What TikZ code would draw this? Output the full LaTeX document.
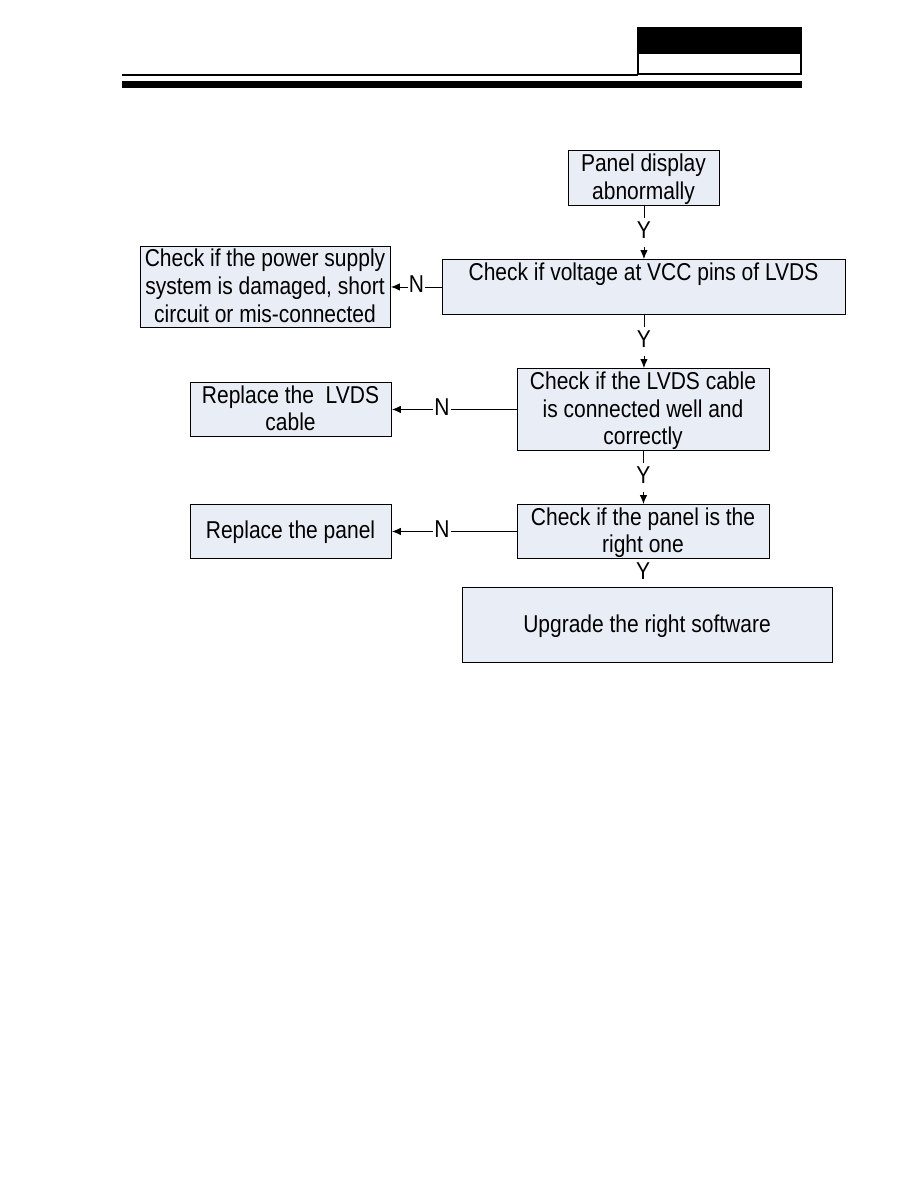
\documentclass[tikz,border=0pt]{standalone}
\usepackage{fontspec}
\setmainfont{Liberation Sans}
\usetikzlibrary{arrows.meta}
\definecolor{boxfill}{RGB}{233,237,245}
\newcommand\tallt[1]{\scalebox{1}[1.16]{\begin{tabular}{@{}c@{}}#1\end{tabular}}}
\tikzset{
  flowbox/.style={draw=black, line width=0.9pt, fill=boxfill, inner sep=0pt, anchor=north west},
  boxtext/.style={font=\fontsize{21}{23.8}\selectfont, align=center, inner sep=0pt},
  conn/.style={line width=0.9pt, -{Latex[length=9pt,width=7.5pt]}},
  lbl/.style={font=\fontsize{21}{24}\selectfont, fill=white, inner sep=1pt}
}
\begin{document}
\begin{tikzpicture}[x=1pt,y=-1pt]
\useasboundingbox (0,0) rectangle (918,1188);
% header
\fill[black] (637,27) rectangle (802,53);
\draw[line width=2pt] (638,53) rectangle (801,74);
\fill[black] (122,74) rectangle (638,76.5);
\fill[black] (122,81) rectangle (802,88);
% boxes
\node[flowbox, minimum width=151pt, minimum height=55pt] (b1) at (568,150) {};
\node[boxtext] (t1) at (643.5,180) {\tallt{Panel display\\abnormally}};
\node[flowbox, minimum width=403pt, minimum height=55pt] (b2) at (442,259) {};
\node[boxtext] (t2) at (643.5,274.5) {\tallt{Check if voltage at VCC pins of LVDS}};
\node[flowbox, minimum width=250pt, minimum height=81pt] (b3) at (140,246) {};
\node[boxtext] (t3) at (265,289) {\tallt{Check if the power supply\\system is damaged, short\\circuit or mis-connected}};
\node[flowbox, minimum width=252pt, minimum height=82pt] (b4) at (517,368) {};
\node[boxtext] (t4) at (643,411.5) {\tallt{Check if the LVDS cable\\is connected well and\\correctly}};
\node[flowbox, minimum width=201pt, minimum height=54pt] (b5) at (190,382) {};
\node[boxtext] (t5) at (290.5,411.5) {\tallt{Replace the\ \ LVDS\\cable}};
\node[flowbox, minimum width=252pt, minimum height=54pt] (b6) at (517,504) {};
\node[boxtext] (t6) at (643,533.5) {\tallt{Check if the panel is the\\right one}};
\node[flowbox, minimum width=201pt, minimum height=54pt] (b7) at (190,504) {};
\node[boxtext] (t7) at (290.5,533) {\tallt{Replace the panel}};
\node[flowbox, minimum width=370pt, minimum height=75pt] (b8) at (462,587) {};
\node[boxtext] (t8) at (647,627) {\tallt{Upgrade the right software}};
% connectors
\draw[conn] (b1.south) -- node[lbl] {\tallt{Y}} (b2.north -| b1.south);
\draw[conn] (b2.west) -- node[lbl, pos=0.5] {\tallt{N}} (b3.east |- b2.west);
\draw[conn] (b2.south -| b1.south) -- node[lbl] {\tallt{Y}} (b4.north -| b1.south);
\draw[conn] (b4.west) -- node[lbl, pos=0.6] {\tallt{N}} (b5.east);
\draw[conn] (b4.south) -- node[lbl] {\tallt{Y}} (b6.north);
\draw[conn] (b6.west) -- node[lbl, pos=0.6] {\tallt{N}} (b7.east);
\node[font=\fontsize{21}{24}\selectfont, inner sep=0pt] (y4) at (643,574) {\tallt{Y}};
\end{tikzpicture}
\end{document}
